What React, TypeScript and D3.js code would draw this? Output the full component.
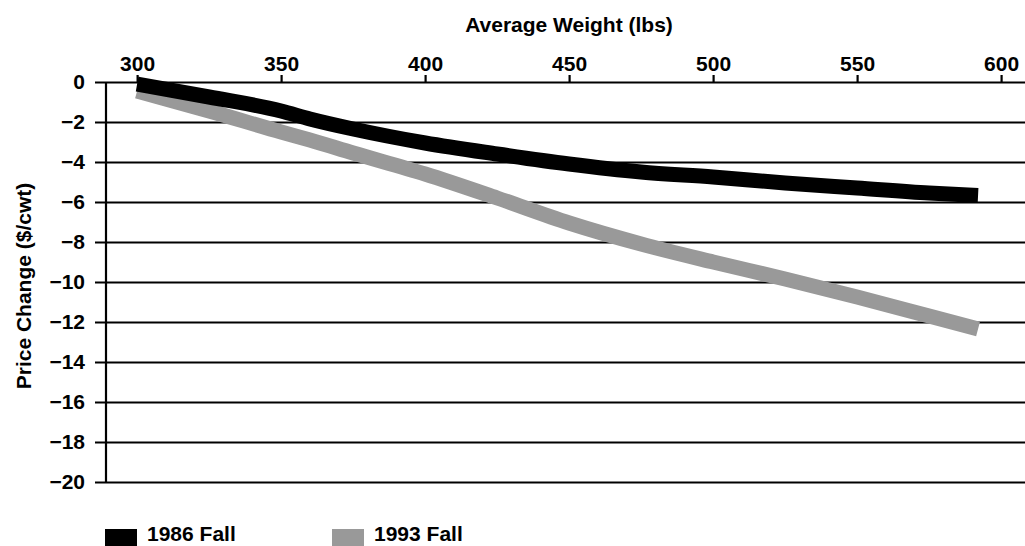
import { useEffect, useRef } from 'react';
import * as d3 from 'd3';

// Average weight (lbs) for each reading
const weights = [300, 325, 350, 360, 375, 400, 425, 450, 475, 500, 525, 550, 575, 592];
// Price change ($/cwt), 1986 Fall
const fall1986 = [-0.1, -0.75, -1.45, -1.85, -2.35, -3.05, -3.6, -4.1, -4.5, -4.75, -5.05, -5.3, -5.55, -5.67];
// Price change ($/cwt), 1993 Fall
const fall1993 = [-0.45, -1.45, -2.5, -2.9, -3.55, -4.6, -5.8, -7.05, -8.1, -9.0, -9.85, -10.75, -11.7, -12.35];

const xTicks = [300, 350, 400, 450, 500, 550, 600];
const yTicks = [0, -2, -4, -6, -8, -10, -12, -14, -16, -18, -20];

const seriesNames = ['1986 Fall', '1993 Fall'];
const seriesColors = ['#000000', '#999999'];

const FONT = '"Liberation Sans", Arial, sans-serif';

export default function App() {
  const svgRef = useRef<SVGSVGElement>(null);

  useEffect(() => {
    if (!svgRef.current) return;
    const width = 1025;
    const height = 546;
    const margin = { top: 82, right: 0, bottom: 64, left: 106 };
    const innerWidth = width - margin.left - margin.right;
    const innerHeight = height - margin.top - margin.bottom;

    const svg = d3.select(svgRef.current);
    svg.selectAll('*').remove();
    svg.attr('width', width).attr('height', height);

    const g = svg.append('g').attr('transform', `translate(${margin.left},${margin.top})`);

    const x = d3.scaleLinear().domain([289.2, 608.3]).range([0, innerWidth]);
    const y = d3.scaleLinear().domain([0, -20]).range([0, innerHeight]);

    // Horizontal gridlines + y tick labels
    g.append('g')
      .call(d3.axisLeft(y).tickValues(yTicks).tickSize(-innerWidth).tickPadding(21))
      .call(ax => ax.select('.domain').remove())
      .call(ax => ax.selectAll('.tick line')
        .attr('x1', -11)
        .attr('stroke', '#000')
        .attr('stroke-width', 2.2))
      .call(ax => ax.selectAll('.tick text')
        .attr('fill', '#000')
        .attr('font-family', FONT)
        .attr('font-size', 21)
        .attr('font-weight', 700));

    // Vertical axis line
    g.append('line')
      .attr('x1', 0).attr('x2', 0)
      .attr('y1', 0).attr('y2', innerHeight)
      .attr('stroke', '#000')
      .attr('stroke-width', 2.2);

    // Top x axis
    g.append('g')
      .call(d3.axisTop(x).tickValues(xTicks).tickSize(7).tickPadding(4).tickFormat(d3.format('d')))
      .call(ax => ax.select('.domain').remove())
      .call(ax => ax.selectAll('.tick line').attr('stroke', '#000').attr('stroke-width', 2.2))
      .call(ax => ax.selectAll('.tick text')
        .attr('fill', '#000')
        .attr('font-family', FONT)
        .attr('font-size', 21)
        .attr('font-weight', 700));

    // Lines
    const line = d3.line<[number, number]>()
      .x(d => x(d[0]))
      .y(d => y(d[1]))
      .curve(d3.curveMonotoneX);

    [fall1993, fall1986].forEach((vals, i) => {
      const idx = i === 0 ? 1 : 0;
      g.append('path')
        .datum(weights.map((w, j) => [w, vals[j]] as [number, number]))
        .attr('fill', 'none')
        .attr('stroke', seriesColors[idx])
        .attr('stroke-width', 15)
        .attr('stroke-linecap', 'butt')
        .attr('d', line);
    });

    // Axis titles
    svg.append('text')
      .attr('x', 569)
      .attr('y', 32)
      .attr('text-anchor', 'middle')
      .attr('font-family', FONT)
      .attr('font-size', 21)
      .attr('font-weight', 700)
      .text('Average Weight (lbs)');

    svg.append('text')
      .attr('transform', `translate(31,${286}) rotate(-90)`)
      .attr('text-anchor', 'middle')
      .attr('font-family', FONT)
      .attr('font-size', 21)
      .attr('font-weight', 700)
      .text('Price Change ($/cwt)');

    // Legend
    const legendX = [105, 332];
    const legend = svg.append('g');
    seriesNames.forEach((name, i) => {
      legend.append('rect')
        .attr('x', legendX[i])
        .attr('y', 529)
        .attr('width', 32)
        .attr('height', 17)
        .attr('fill', seriesColors[i]);
      legend.append('text')
        .attr('x', legendX[i] + 42)
        .attr('y', 541)
        .attr('font-family', FONT)
        .attr('font-size', 21)
        .attr('font-weight', 700)
        .text(name);
    });
  }, []);

  return (
    <div style={{ position: 'absolute', left: 0, top: 0 }}>
      <svg ref={svgRef} style={{ display: 'block' }} />
    </div>
  );
}
